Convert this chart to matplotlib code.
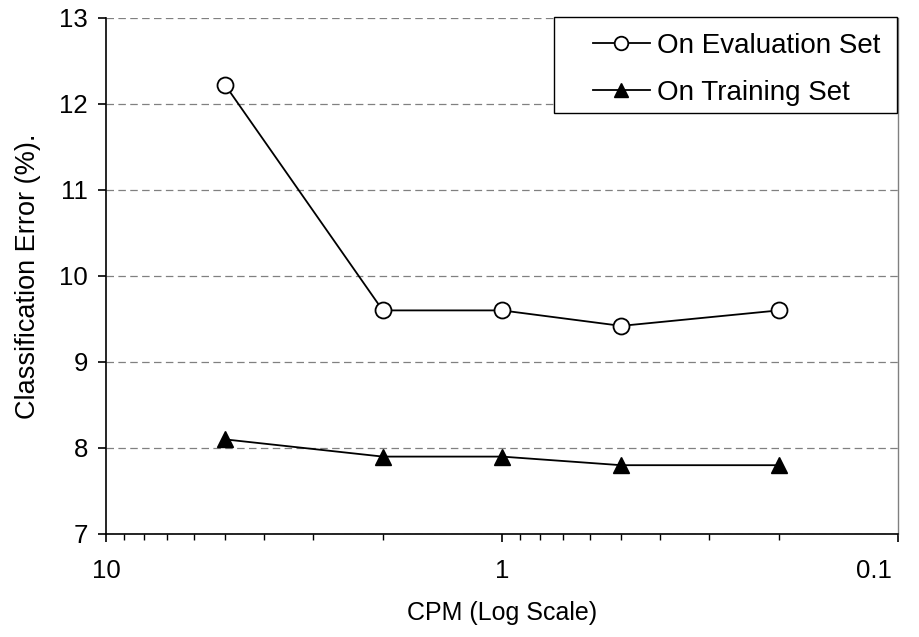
import matplotlib
matplotlib.use("Agg")
import matplotlib.pyplot as plt
import matplotlib.transforms as mtransforms
from matplotlib.lines import Line2D
from matplotlib.patches import Rectangle
from matplotlib.ticker import FixedLocator, LogLocator, NullFormatter

plt.rcParams['font.family'] = ['Liberation Sans', 'DejaVu Sans']

# data
cpm = [5, 2, 1, 0.5, 0.2]
eval_err = [12.22, 9.6, 9.6, 9.42, 9.6]
train_err = [8.1, 7.9, 7.9, 7.8, 7.8]
x_ticks = [10, 1, 0.1]
x_tick_labels = ["10", "1", "0.1"]
y_ticks = [7, 8, 9, 10, 11, 12, 13]
series_names = ['On Evaluation Set', 'On Training Set']

W, H = 920, 637
fig = plt.figure(figsize=(W / 100, H / 100), dpi=100)
ax = fig.add_axes([106 / W, 1 - 534 / H, (898 - 106) / W, (534 - 18) / H])

eval_style = dict(color='black', lw=1.3, marker='o', ms=11.5,
                  mfc='white', mec='black', mew=1.3)
train_style = dict(color='black', lw=1.3, marker='^', ms=12,
                   mfc='black', mec='black')

ax.plot(cpm, eval_err, zorder=3, **eval_style)
ax.plot(cpm, train_err, zorder=3, **train_style)

ax.set_xscale('log')
ax.set_xlim(10, 0.1)
ax.set_ylim(7, 13)
ax.xaxis.set_major_locator(FixedLocator(x_ticks))
ax.set_xticklabels(x_tick_labels)
ax.xaxis.set_minor_locator(LogLocator(base=10, subs=range(2, 10)))
ax.xaxis.set_minor_formatter(NullFormatter())
ax.set_yticks(y_ticks)

ax.grid(axis='y', which='major', color='#808080', ls=(0, (6, 3.5)), lw=0.9)
ax.set_axisbelow(True)

ax.tick_params(axis='both', which='major', direction='out', length=6, width=1.2,
               labelsize=18.5, color='black')
ax.tick_params(axis='x', which='major', pad=12)
ax.tick_params(axis='y', which='major', pad=7)
ax.tick_params(axis='x', which='minor', direction='out', length=4, width=1)

# Excel keeps the last x label inside the chart area
last = ax.get_xticklabels()[-1]
last.set_horizontalalignment('right')
last.set_transform(last.get_transform() +
                   mtransforms.ScaledTranslation(-6 / 100, 0, fig.dpi_scale_trans))

ax.spines['left'].set_linewidth(1.2)
ax.spines['bottom'].set_linewidth(1.2)
ax.spines['top'].set_visible(False)
ax.spines['right'].set_color('#808080')
ax.spines['right'].set_linewidth(1)

ax.set_xlabel('CPM (Log Scale)', fontsize=18, labelpad=13)
ax.set_ylabel('Classification Error (%).', fontsize=19.5, labelpad=13)

# legend box drawn like the Excel one
fig.add_artist(Rectangle((554 / W, 1 - 113 / H), (897 - 554) / W, (113 - 17) / H,
                         transform=fig.transFigure, fill=True, fc='white',
                         ec='black', lw=1.0, zorder=5))
for row_y, name, style in zip([43, 90], series_names, [eval_style, train_style]):
    yy = 1 - row_y / H
    fig.add_artist(Line2D([593 / W, 650 / W], [yy, yy], transform=fig.transFigure,
                          color='black', lw=1.3, zorder=6))
    mk = {k: v for k, v in style.items() if k not in ('color', 'lw')}
    mk['ms'] = style['ms'] * 0.85
    fig.add_artist(Line2D([621 / W], [yy], transform=fig.transFigure,
                          ls='none', zorder=7, **mk))
    fig.text(657 / W, yy, name, fontsize=20, ha='left', va='center_baseline',
             zorder=8)

fig.savefig('out.png', dpi=100)
